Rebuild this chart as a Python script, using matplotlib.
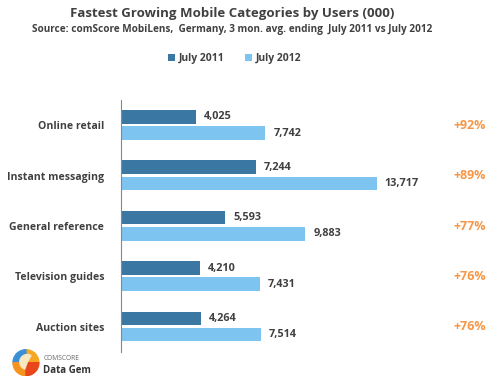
import matplotlib.pyplot as plt
from matplotlib.patches import Wedge

categories = ["Online retail", "Instant messaging", "General reference",
              "Television guides", "Auction sites"]
july_2011 = [4025, 7244, 5593, 4210, 4264]
july_2012 = [7742, 13717, 9883, 7431, 7514]
growth = ["+92%", "+89%", "+77%", "+76%", "+76%"]

dark = "#3a77a3"
light = "#7ec4f0"
orange = "#f79646"
txt = "#404040"

plt.rcParams['font.family'] = ['Open Sans', 'DejaVu Sans']

fig = plt.figure(figsize=(4.99, 3.9), dpi=100)
ax = fig.add_axes([0.2425, 0.0974, 0.7575, 0.6462])

y = list(range(len(categories)))
h = 0.27
ax.barh([i - 0.165 for i in y], july_2011, height=h, color=dark, label="July 2011")
ax.barh([i + 0.155 for i in y], july_2012, height=h, color=light, label="July 2012")

for i in y:
    ax.text(july_2011[i] + 420, i - 0.165, f"{july_2011[i]:,}", va="center",
            ha="left", fontsize=7.8, fontweight="bold", color=txt)
    ax.text(july_2012[i] + 420, i + 0.155, f"{july_2012[i]:,}", va="center",
            ha="left", fontsize=7.8, fontweight="bold", color=txt)
    ax.text(18700, i, growth[i], va="center", ha="center", fontsize=9,
            fontweight="bold", color=orange)

ax.set_xlim(0, 20260)
ax.set_ylim(4.5, -0.5)
ax.set_yticks(y)
ax.set_yticklabels(categories, fontsize=7.6, fontweight="bold", color=txt)
ax.tick_params(axis="y", length=0, pad=12)
ax.set_xticks([])
for s in ["top", "right", "bottom"]:
    ax.spines[s].set_visible(False)
ax.spines["left"].set_color("#888888")

fig.text(0.465, 0.965, "Fastest Growing Mobile Categories by Users (000)",
         ha="center", va="center", fontsize=9.5, fontweight="bold", color=txt)
fig.text(0.465, 0.925, "Source: comScore MobiLens,  Germany, 3 mon. avg. ending  July 2011 vs July 2012",
         ha="center", va="center", fontsize=7.2, fontweight="bold", color=txt)

fig.legend(loc="center", bbox_to_anchor=(0.47, 0.85), ncol=2, frameon=False,
           handlelength=0.7, handleheight=0.7, columnspacing=2.0,
           handletextpad=0.3, prop={"weight": "bold", "size": 7.5})
for t in fig.legends[0].get_texts():
    t.set_color(txt)

# comScore Data Gem logo
lax = fig.add_axes([0.022, 0.035, 0.06, 0.07])
lax.set_xlim(-1, 1)
lax.set_ylim(-1, 1)
lax.set_aspect("equal")
lax.axis("off")
for a1, a2, c in [(0, 90, "#f5a623"), (90, 180, "#3a8fd6"), (180, 270, "#f7941d"),
                  (270, 360, "#e8471c")]:
    lax.add_patch(Wedge((0, 0), 0.95, a1, a2, color=c))
lax.add_patch(Wedge((0.1, 0.05), 0.55, 60, 250, color="#f6e8c0"))
fig.text(0.087, 0.081, "COMSCORE", fontsize=4.8, color="#666666", va="center")
fig.text(0.087, 0.050, "Data Gem", fontsize=7, fontweight="bold", color="#333333", va="center")

fig.savefig("out.png", dpi=100)
